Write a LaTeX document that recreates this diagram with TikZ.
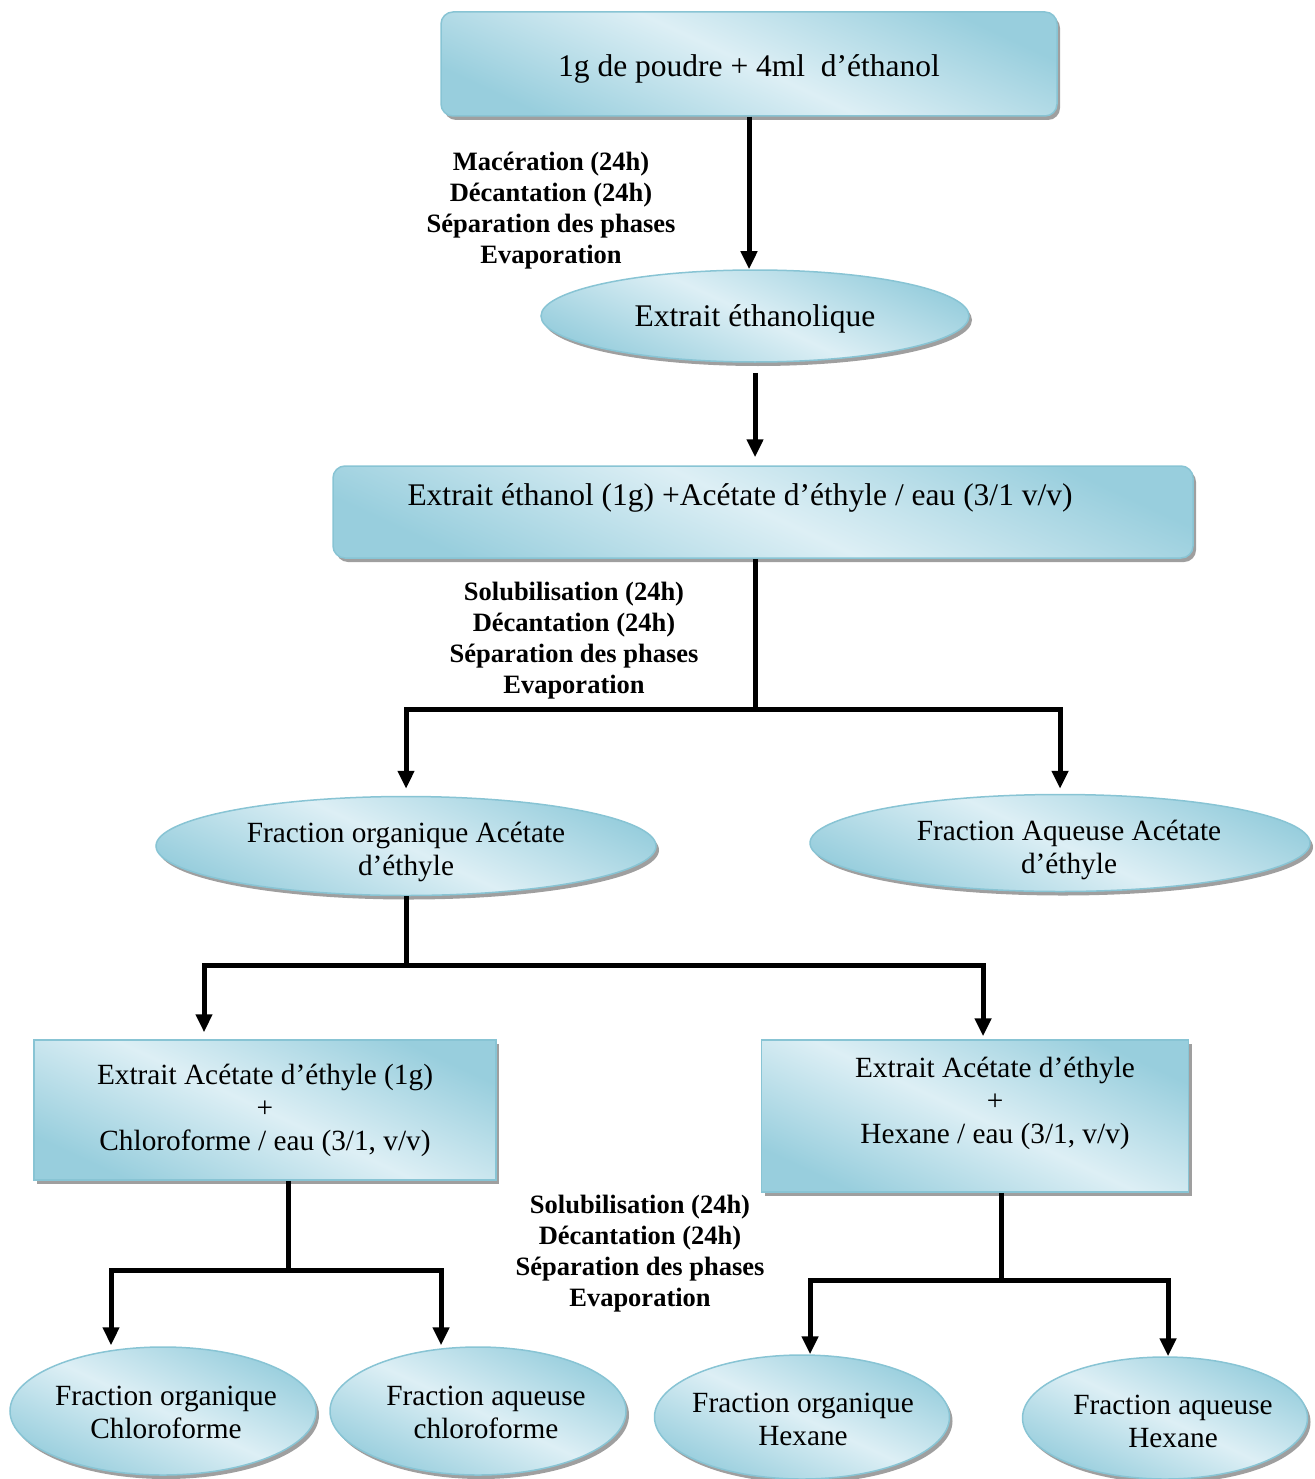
\documentclass[tikz,border=0pt]{standalone}
\usepackage{fontspec}
\setmainfont{Liberation Serif}
\usetikzlibrary{arrows.meta,shapes.geometric,shadows}
\definecolor{bfillA}{HTML}{DDEFF5}
\definecolor{bfillB}{HTML}{98CEDD}
\definecolor{bdraw}{HTML}{88C4D4}
\begin{document}
\begin{tikzpicture}[x=1pt,y=-1pt,
  shapebase/.style={draw=bdraw, line width=1.5pt,
    top color=bfillB, bottom color=bfillB, middle color=bfillA, shading angle=-25,
    drop shadow={shadow xshift=3pt, shadow yshift=-4pt, fill=gray!75, opacity=1},
    inner sep=0pt},
  bigfont/.style={font={\fontsize{31.5}{34}\selectfont}},
  smallfont/.style={font={\fontsize{29.3}{33}\selectfont}},
  btxt/.style={bigfont, anchor=center, align=center, inner sep=0pt},
  stxt/.style={smallfont, anchor=center, align=center, inner sep=0pt},
  rbox/.style={shapebase, rectangle, rounded corners=12pt},
  sbox/.style={shapebase, rectangle},
  ell/.style={shapebase, ellipse},
  lbl/.style={font={\bfseries\fontsize{26.5}{31}\selectfont}, align=center, inner sep=0pt},
  ln/.style={line width=5pt, black},
  arr/.style={ln, -{Triangle[length=18pt,width=16pt]}}
]
\useasboundingbox (0,0) rectangle (1314,1479);

% nodes
\node[rbox, minimum width=616pt, minimum height=104pt,
  label={[btxt, yshift=-5pt]center:1g de poudre + 4ml\ \ d’éthanol}] (b1) at (749,64) {};
\node[lbl] (l1) at (551,211) {Macération (24h)\\Décantation (24h)\\Séparation des phases\\Evaporation};
\node[ell, minimum width=428pt, minimum height=92pt,
  label={[btxt, yshift=-3pt]center:Extrait éthanolique}] (e1) at (755,316) {};
\node[rbox, minimum width=860pt, minimum height=92pt,
  label={[btxt, xshift=-23pt, yshift=14pt]center:Extrait éthanol (1g) +Acétate d’éthyle / eau (3/1 v/v)}] (b2) at (763,512) {};
\node[lbl] (l2) at (574,641) {Solubilisation (24h)\\Décantation (24h)\\Séparation des phases\\Evaporation};
\node[ell, minimum width=500pt, minimum height=99pt,
  label={[stxt, yshift=-6pt]center:Fraction organique Acétate\\d’éthyle}] (e2) at (406,846) {};
\node[ell, minimum width=500pt, minimum height=97pt,
  label={[stxt, xshift=9pt, yshift=-7pt]center:Fraction Aqueuse Acétate\\d’éthyle}] (e3) at (1060,843) {};
\node[sbox, minimum width=462pt, minimum height=140pt,
  label={[stxt]center:Extrait Acétate d’éthyle (1g)\\+\\Chloroforme / eau (3/1, v/v)}] (b3) at (265,1110) {};
\node[sbox, minimum width=427pt, minimum height=152pt,
  label={[stxt, xshift=20pt, yshift=13pt]center:Extrait Acétate d’éthyle\\+\\Hexane / eau (3/1, v/v)}] (b4) at (975,1116) {};
\node[lbl] (l3) at (640,1254) {Solubilisation (24h)\\Décantation (24h)\\Séparation des phases\\Evaporation};
\node[ell, minimum width=306pt, minimum height=128pt,
  label={[stxt, xshift=3pt, yshift=-1pt]center:Fraction organique\\Chloroforme}] (e4) at (163,1411) {};
\node[ell, minimum width=296pt, minimum height=128pt,
  label={[stxt, xshift=8pt, yshift=-1pt]center:Fraction aqueuse\\chloroforme}] (e5) at (478,1411) {};
\node[ell, minimum width=295pt, minimum height=124pt,
  label={[stxt, xshift=1pt, yshift=-2pt]center:Fraction organique\\Hexane}] (e6) at (802,1417) {};
\node[ell, minimum width=285pt, minimum height=122pt,
  label={[stxt, xshift=8pt, yshift=-3pt]center:Fraction aqueuse\\Hexane}] (e7) at (1165,1418) {};

% junctions
\coordinate (j1) at (755,709);
\coordinate (j2) at (406,965);
\coordinate (j3) at (288,1270);
\coordinate (j4) at (1001,1280);

% connectors
\draw[arr] (b1.south) -- (b1.south |- e1.north);
\draw[arr, shorten <=10pt, shorten >=8pt] (e1.south) -- (e1.south |- b2.north);
\draw[ln] (b2.south -| j1) -- (j1);
\draw[arr, shorten >=7pt] (j1) -| (e2.north);
\draw[arr, shorten >=5pt] (j1) -| (e3.north);
\draw[ln] (e2.south) -- (j2);
\draw[arr, shorten >=7pt] (j2) -| ([xshift=-61pt]b3.north);
\draw[arr, shorten >=3pt] (j2) -| ([xshift=8pt]b4.north);
\draw[ln] (b3.south -| j3) -- (j3);
\draw[arr, shorten >=1pt] (j3) -| ([xshift=-52pt]e4.north);
\draw[arr, shorten >=1pt] (j3) -| ([xshift=-37pt]e5.north);
\draw[ln] (b4.south -| j4) -- (j4);
\draw[arr] (j4) -| ([xshift=8pt]e6.north);
\draw[arr] (j4) -| ([xshift=3pt]e7.north);
\end{tikzpicture}
\end{document}
